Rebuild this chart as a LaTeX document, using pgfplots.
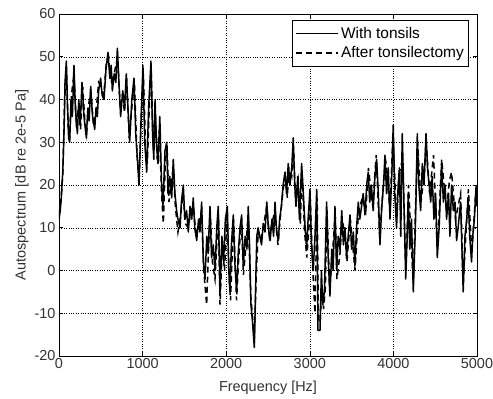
\documentclass[border=0pt]{standalone}
\usepackage{pgfplots}
\pgfplotsset{compat=1.18}
\usepackage{fontspec}
\setmainfont{Liberation Sans}
\begin{document}
\begin{tikzpicture}
\useasboundingbox (-59bp,-43bp) rectangle (434bp,356bp);
\begin{axis}[
  scale only axis, width=418bp, height=342bp,
  xmin=0, xmax=5000, ymin=-20, ymax=60,
  xtick={0,1000,2000,3000,4000,5000},
  ytick={-20,-10,0,10,20,30,40,50,60},
  scaled x ticks=false,
  /pgf/number format/1000 sep={},
  /pgf/number format/assume math mode=true,
  tick align=inside, tick pos=both,
  major tick length=4bp,
  grid=major,
  major grid style={black, dotted, line width=0.5pt},
  axis line style={black, line width=0.6pt},
  tick style={black, line width=0.6pt},
  ticklabel style={font=\fontsize{14.5}{16}\selectfont, text=black!80},
  xticklabel style={yshift=1bp},
  label style={font=\fontsize{14.5}{16}\selectfont, text=black!80},
  xlabel={Frequency [Hz]},
  ylabel={Autospectrum [dB re 2e-5 Pa]},
  xlabel style={at={(axis description cs:0.5,-0.105)}, anchor=base},
  ylabel style={at={(axis description cs:-0.0885,0.5)}, anchor=center},
  legend style={at={(0.981,0.982)}, anchor=north east, draw=black, line width=0.6pt,
    font=\fontsize{15.5}{17}\selectfont, inner xsep=3bp, inner ysep=4.5bp, row sep=3bp, cells={anchor=west}},
  legend image code/.code={\draw[#1] (0bp,0bp) -- (42bp,0bp);},
]
\addplot[black, line width=1.5pt, line join=round] coordinates {
(0,12)(15,14)(31,18)(47,24)(62,34)(72,44)(88,49)(103,38)(115,31)(128,30)
(144,40)(160,36)(179,48)(196,38)(220,32)(237,40)(253,34)(275,44)(299,36)(327,31)
(345,38)(361,35)(378,43)(402,36)(427,33)(443,38)(459,36)(474,42)(498,45)(516,41)
(538,40)(562,47)(586,51)(608,45)(624,48)(638,42)(660,46)(680,44)(698,52)(717,44)
(737,36)(763,42)(784,38)(805,46)(825,38)(845,30)(871,40)(897,45)(918,32)(938,26)
(957,20)(979,34)(1004,48)(1026,30)(1049,23)(1072,38)(1100,49)(1119,32)(1134,26)(1149,40)
(1165,30)(1184,25)(1206,36)(1227,20)(1243,15)(1268,28)(1288,30)(1304,18)(1325,22)(1348,17)
(1367,26)(1387,18)(1407,14)(1423,12)(1448,10)(1464,16)(1487,20)(1505,12)(1526,14)(1547,9)
(1567,15)(1588,12)(1606,17)(1624,10)(1647,7)(1670,12)(1686,9)(1706,16)(1727,2)(1747,-2)
(1768,8)(1784,4)(1806,15)(1825,3)(1845,6)(1866,0)(1887,10)(1905,15)(1926,-5)(1949,8)
(1969,2)(1990,12)(2014,15)(2031,0)(2045,-5)(2062,6)(2085,13)(2103,2)(2125,-5)(2144,4)
(2165,10)(2185,13)(2205,1)(2227,8)(2248,5)(2264,15)(2279,6)(2296,-8)(2315,-12)(2336,-18)
(2351,-5)(2366,8)(2382,10)(2402,8)(2423,6)(2443,11)(2464,9)(2485,16)(2505,10)(2526,7)
(2547,12)(2567,8)(2584,16)(2603,9)(2624,7)(2639,12)(2660,15)(2681,20)(2703,23)(2722,18)
(2742,25)(2763,20)(2784,24)(2802,31)(2820,20)(2835,15)(2856,22)(2876,12)(2902,25)(2923,18)
(2944,10)(2962,5)(2980,12)(3002,19)(3021,6)(3041,0)(3062,8)(3083,19)(3098,-14)(3122,-14)
(3139,0)(3155,-8)(3175,-5)(3201,16)(3222,2)(3241,-6)(3263,5)(3279,0)(3301,15)(3321,0)
(3340,8)(3361,5)(3382,14)(3402,6)(3421,10)(3440,3)(3459,8)(3481,13)(3500,5)(3521,9)
(3540,1)(3559,10)(3580,16)(3598,12)(3619,15)(3639,18)(3660,13)(3681,20)(3699,23)(3717,16)
(3737,20)(3758,14)(3779,22)(3799,26)(3820,18)(3839,6)(3861,15)(3882,20)(3899,27)(3918,18)
(3938,24)(3959,12)(3980,22)(3998,34)(4016,18)(4038,10)(4057,20)(4072,24)(4088,8)(4106,32)
(4124,18)(4147,-2)(4165,8)(4178,18)(4196,5)(4217,12)(4238,-5)(4263,10)(4286,32)(4304,20)
(4326,14)(4346,25)(4366,20)(4390,32)(4408,24)(4428,20)(4446,16)(4464,22)(4485,12)(4505,18)
(4525,3)(4547,10)(4577,25)(4598,16)(4619,20)(4636,12)(4660,18)(4676,8)(4696,20)(4717,14)
(4737,16)(4756,7)(4774,10)(4804,16)(4820,5)(4835,-5)(4856,8)(4877,12)(4895,17)(4913,8)
(4935,2)(4949,8)(4969,12)(4987,19)(5000,15)
};
\addlegendentry{With tonsils}
\addplot[black, line width=1.5pt, dash pattern=on 6bp off 4bp] coordinates {
(0,13)(21,16)(47,23)(67,40)(88,47)(108,34)(128,31)(149,41)(179,46)(206,35)
(232,38)(258,33)(284,43)(309,35)(330,32)(356,39)(381,42)(412,34)(443,37)(474,44)
(505,43)(536,41)(567,49)(593,50)(619,44)(644,45)(670,47)(701,50)(732,38)(758,41)
(784,37)(809,45)(840,31)(871,38)(902,44)(933,27)(959,22)(985,36)(1010,46)(1036,28)
(1057,25)(1083,40)(1103,47)(1129,28)(1150,38)(1175,26)(1201,33)(1227,18)(1248,11)(1273,26)
(1294,28)(1315,16)(1340,20)(1366,24)(1392,15)(1423,9)(1449,12)(1485,18)(1510,11)(1547,10)
(1577,14)(1608,15)(1639,8)(1670,11)(1706,14)(1732,0)(1766,-8)(1789,5)(1809,14)(1835,2)
(1866,-2)(1892,8)(1907,13)(1926,-8)(1954,6)(1980,0)(2010,13)(2036,-2)(2052,-7)(2072,4)
(2088,12)(2124,-7)(2150,3)(2181,12)(2206,-1)(2237,6)(2263,13)(2294,-6)(2320,-12)(2336,-17)
(2356,-3)(2382,9)(2413,7)(2443,10)(2485,15)(2516,8)(2547,11)(2583,14)(2619,6)(2650,13)
(2681,19)(2706,22)(2732,17)(2748,24)(2784,22)(2804,29)(2830,17)(2861,21)(2887,11)(2907,23)
(2938,9)(2964,3)(2990,10)(3005,17)(3031,2)(3062,-10)(3088,17)(3103,-12)(3124,-12)(3145,-3)
(3165,-9)(3186,-4)(3206,14)(3237,-4)(3268,3)(3304,13)(3325,-2)(3361,4)(3387,12)(3423,8)
(3444,2)(3485,12)(3541,0)(3583,14)(3629,17)(3670,14)(3701,24)(3753,15)(3794,27)(3835,8)
(3887,22)(3907,26)(3959,14)(3995,32)(4036,12)(4072,23)(4109,26)(4150,0)(4181,20)(4237,-3)
(4289,30)(4330,16)(4371,23)(4392,30)(4433,18)(4480,27)(4526,5)(4578,26)(4634,14)(4670,21)
(4696,23)(4743,12)(4804,18)(4835,-3)(4897,19)(4938,4)(4990,20)(5000,18)
};
\addlegendentry{After tonsilectomy}
\end{axis}
\end{tikzpicture}
\end{document}
